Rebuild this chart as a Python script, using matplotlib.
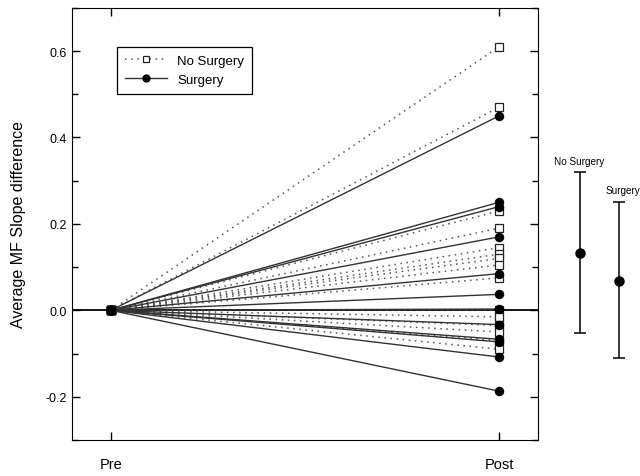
import numpy as np
import matplotlib.pyplot as plt
from matplotlib.ticker import MultipleLocator

plt.rcParams['font.family'] = ['Liberation Sans', 'DejaVu Sans']

# x positions: Pre, Post
stages = ['Pre', 'Post']
# Post values (Pre = 0 for every subject)
no_surgery_post = [0.61, 0.47, 0.23, 0.19, 0.145, 0.13, 0.12, 0.105, 0.075,
                   0.0, -0.015, -0.035, -0.05, -0.07, -0.09]
surgery_post = [0.45, 0.25, 0.24, 0.17, 0.085, 0.037, 0.003, -0.033,
                -0.067, -0.073, -0.108, -0.187]
# summary (mean and bar ends) shown at the right
group_names = ['No Surgery', 'Surgery']
group_mean = [0.132, 0.069]
group_low = [-0.053, -0.111]
group_high = [0.321, 0.25]

fig = plt.figure(figsize=(6.4, 4.77), dpi=100)
ax = fig.add_axes([0.1125, 0.0755, 0.728, 0.906])

x = [0, 1]
for i, v in enumerate(no_surgery_post):
    ax.plot(x, [0, v], color='#555555', ls=(0, (1, 3)), lw=1.1,
            marker='s', ms=5.8, mfc='white', mec='#222222', mew=0.9,
            label='No Surgery' if i == 0 else None, zorder=3)
for i, v in enumerate(surgery_post):
    ax.plot(x, [0, v], color='#333333', ls='-', lw=1.0,
            marker='o', ms=5.8, mfc='black', mec='black',
            label='Surgery' if i == 0 else None, zorder=4)

ax.axhline(0, color='black', lw=1.3, zorder=2)

# summary error bars outside the axes
sx = [1.208, 1.308]
for xi, m, lo, hi, name in zip(sx, group_mean, group_low, group_high, group_names):
    ax.errorbar([xi], [m], yerr=[[m - lo], [hi - m]], fmt='o', color='black',
                ms=6.5, capsize=4, elinewidth=1.1, capthick=1.1, clip_on=False)
    for artist in ax.containers[-1].get_children():
        artist.set_clip_on(False)
ax.text(1.205, 0.333, group_names[0], fontsize=7.2, ha='center', va='bottom')
ax.text(1.32, 0.266, group_names[1], fontsize=7.2, ha='center', va='bottom')

ax.set_xlim(-0.1, 1.1)
ax.set_ylim(-0.3, 0.7)
ax.set_xticks(x)
ax.set_xticklabels(stages, fontsize=10.5)
ax.yaxis.set_major_locator(MultipleLocator(0.2))
ax.yaxis.set_minor_locator(MultipleLocator(0.1))
ax.set_yticks([-0.2, 0.0, 0.2, 0.4, 0.6])
ax.set_yticklabels(['-0.2', '0.0', '0.2', '0.4', '0.6'], fontsize=9)
ax.tick_params(direction='in', which='both', top=True, right=True)
ax.tick_params(which='major', length=6, width=1)
ax.tick_params(which='minor', length=4, width=1)
ax.tick_params(axis='x', pad=12)
ax.set_ylabel('Average MF Slope difference', fontsize=11.5, labelpad=14)

leg = ax.legend(loc='upper left', bbox_to_anchor=(0.082, 0.925), fontsize=9.5,
                fancybox=False, edgecolor='black', framealpha=1,
                handlelength=3.2, borderpad=0.6, markerscale=0.85)
leg.get_frame().set_linewidth(0.9)

fig.savefig('out.png', dpi=100)
